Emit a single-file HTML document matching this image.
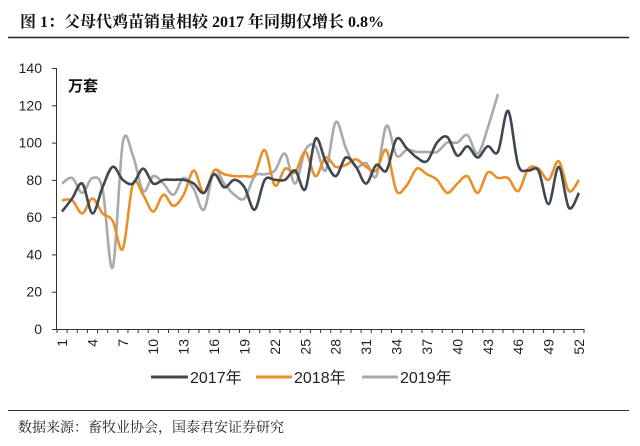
<!DOCTYPE html>
<html><head><meta charset="utf-8"><style>
body{margin:0;background:#fff;}
svg{display:block;font-family:"Liberation Sans","Noto Sans CJK SC",sans-serif;}
</style></head><body>
<svg id="c" width="640" height="446">
<text x="20" y="27" font-family="Liberation Serif,'Noto Serif CJK SC',serif" font-size="16" font-weight="bold" fill="#111">图 1：父母代鸡苗销量相较 2017 年同期仅增长 0.8%</text>
<line x1="8" y1="37.5" x2="629" y2="37.5" stroke="#222" stroke-width="1.5"/>
<line x1="8" y1="410.5" x2="629" y2="410.5" stroke="#333" stroke-width="1"/>
<text x="18" y="432" font-size="14" fill="#222" font-family="'Noto Serif CJK SC',serif">数据来源：畜牧业协会，国泰君安证券研究</text>
<text x="68" y="91" font-size="15" font-weight="bold" fill="#111">万套</text>
<g id="axes"></g>
<g id="lines"></g>
<g>
<line x1="151" y1="377" x2="188" y2="377" stroke="#3f4753" stroke-width="3"/>
<text x="190" y="383" font-size="16" fill="#222">2017年</text>
<line x1="256" y1="377" x2="292" y2="377" stroke="#e9902a" stroke-width="3"/>
<text x="294" y="383" font-size="16" fill="#222">2018年</text>
<line x1="362" y1="377" x2="398" y2="377" stroke="#aaaaaa" stroke-width="3"/>
<text x="400" y="383" font-size="16" fill="#222">2019年</text>
</g>
</svg>
<script>
const weeks = Array.from({length:52},(_,i)=>i+1);
const yTicks = [0,20,40,60,80,100,120,140];
const xLabels = [1,4,7,10,13,16,19,22,25,28,31,34,37,40,43,46,49,52];
const s2017 = [63,70,78,62,76,87,80,78,86,78,80,80,80,78,73,83,76,80,76,64,80,80,80,85,75,102,90,82,92,87,78,88,85,102,97,92,90,100,103,93,98,92,98,95,117,88,85,85,67,87,65,73];
const s2018 = [69,69,62,70,62,58,43,78,72,63,72,66,72,85,73,85,83,82,82,83,96,77,86,84,95,82,92,87,88,91,87,85,96,74,77,86,83,80,73,78,82,73,84,81,81,74,86,86,80,90,74,80];
const s2019 = [78,81,73,81,75,33,100,93,74,82,78,72,81,75,64,85,78,72,70,82,83,85,94,78,96,98,85,111,97,87,89,82,109,93,96,95,95,95,100,100,104,94,108,126];
const X0=62,X1=579,Y0=329,Y1=68;
const xs=w=>X0+(w-1)*(X1-X0)/51;
const ys=v=>Y0-v*(Y0-Y1)/140;
const NS="http://www.w3.org/2000/svg";
const axes=document.getElementById('axes'),lines=document.getElementById('lines');
function mk(t,a,p){const e=document.createElementNS(NS,t);for(const k in a)e.setAttribute(k,a[k]);p.appendChild(e);return e;}
const ya=mk('line',{x1:56.5,y1:Y1,x2:56.5,y2:Y0,stroke:'#333','stroke-width':1},axes);


const xa=mk('line',{x1:56.5,y1:Y0+.5,x2:X1+5,y2:Y0+.5,stroke:'#333','stroke-width':1},axes);


yTicks.forEach(v=>{
  const tk=mk('line',{x1:52,y1:ys(v)+.5,x2:56.5,y2:ys(v)+.5,stroke:'#333'},axes);
  
  
  const t=mk('text',{x:42,y:ys(v)+5,'text-anchor':'end','font-size':14,fill:'#222'},axes);
  t.textContent=v;
  
  
});
weeks.forEach(w=>{
  const tk=mk('line',{x1:xs(w)-5,y1:Y0,x2:xs(w)-5,y2:Y0+4,stroke:'#333'},axes);
  
  
});
mk('line',{x1:xs(52)+5,y1:Y0,x2:xs(52)+5,y2:Y0+4,stroke:'#333'},axes);
xLabels.forEach(w=>{
  const t=mk('text',{x:0,y:0,transform:`translate(${xs(w)+5},${Y0+10}) rotate(-90)`,'text-anchor':'end','font-size':14,fill:'#222'},axes);
  t.textContent=w;
  
  
});
function path(vals){
  const p=vals.map((v,i)=>[xs(i+1),ys(v)]);
  let d=`M${p[0][0]},${p[0][1]}`;
  for(let i=0;i<p.length-1;i++){
    const a=p[i-1]||p[i],b=p[i],c=p[i+1],e=p[i+2]||c;
    d+=` C${b[0]+(c[0]-a[0])/6},${b[1]+(c[1]-a[1])/6} ${c[0]-(e[0]-b[0])/6},${c[1]-(e[1]-b[1])/6} ${c[0]},${c[1]}`;
  }
  return d;
}
[[s2019,'#aaaaaa','line-2019'],[s2018,'#e9902a','line-2018'],[s2017,'#3f4753','line-2017']].forEach(([v,c,n])=>{
  const e=mk('path',{d:path(v),fill:'none',stroke:c,'stroke-width':2.6},lines);
  
  
});
</script>
</body></html>
